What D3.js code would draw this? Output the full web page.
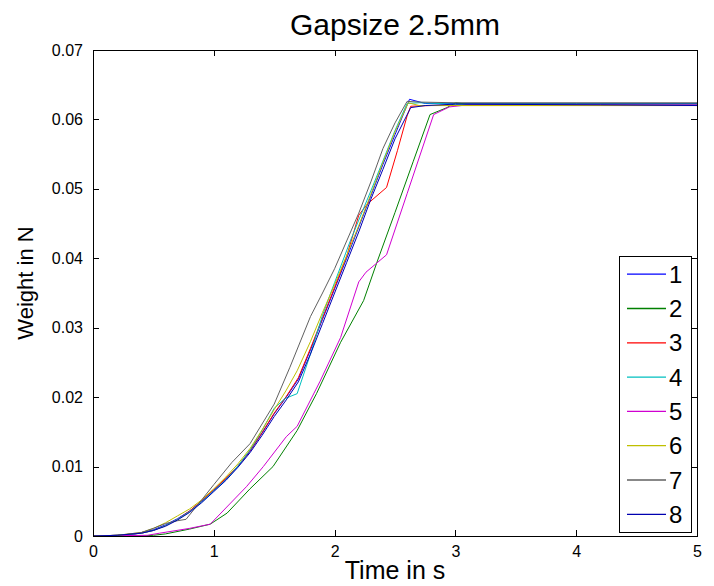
<!DOCTYPE html>
<html lang="en">
<meta charset="utf-8">

<head>
    <title>Gapsize 2.5mm</title>
    <script src="https://d3js.org/d3.v7.min.js"></script>
    <style>
        body { margin: 0; background: #fff; }
        text { font-family: "Liberation Sans", Arial, sans-serif; fill: #000; }
    </style>
</head>

<body>
    <div id="plot"></div>
    <script>
        // time (s), weight (N) pairs for each run
        var run1 = [[0, 0], [0.2, 0.0001], [0.35, 0.0003], [0.5, 0.0009], [0.6, 0.0016], [0.7, 0.0025], [0.8, 0.0036], [0.9, 0.005], [1.0, 0.0066], [1.1, 0.0082], [1.2, 0.01], [1.3, 0.0122], [1.4, 0.0148], [1.5, 0.0176], [1.6, 0.02], [1.7, 0.0226], [1.8, 0.0268], [1.9, 0.0312], [2.0, 0.0356], [2.1, 0.04], [2.2, 0.0445], [2.3, 0.049], [2.4, 0.0535], [2.5, 0.0578], [2.62, 0.0629], [2.75, 0.0623], [3.0, 0.0623], [4.0, 0.0623], [5.0, 0.0623]];
        var run2 = [[0, 0], [0.4, 0], [0.5, 0.0001], [0.6, 0.0003], [0.8, 0.001], [0.97, 0.0017], [1.11, 0.0033], [1.3, 0.0068], [1.49, 0.01], [1.69, 0.0152], [1.85, 0.0205], [2.05, 0.0279], [2.24, 0.0339], [2.35, 0.0394], [2.5, 0.0466], [2.65, 0.0539], [2.79, 0.0607], [2.93, 0.0617], [3.0, 0.0624], [3.1, 0.0622], [5.0, 0.0622]];
        var run3 = [[0, 0], [0.2, 0.0001], [0.4, 0.0004], [0.5, 0.0008], [0.6, 0.0015], [0.7, 0.0024], [0.8, 0.0036], [0.9, 0.0051], [1.0, 0.0067], [1.1, 0.0083], [1.2, 0.0101], [1.3, 0.0123], [1.4, 0.0149], [1.5, 0.0177], [1.6, 0.0201], [1.7, 0.0228], [1.8, 0.027], [1.9, 0.0314], [2.0, 0.0358], [2.1, 0.0403], [2.2, 0.0462], [2.27, 0.0478], [2.43, 0.0502], [2.52, 0.0555], [2.6, 0.0605], [2.63, 0.0619], [2.8, 0.062], [5.0, 0.062]];
        var run4 = [[0, 0], [0.2, 0.0001], [0.4, 0.0004], [0.5, 0.0008], [0.6, 0.0015], [0.7, 0.0024], [0.8, 0.0035], [0.9, 0.0049], [1.0, 0.0065], [1.1, 0.0081], [1.2, 0.0101], [1.3, 0.0124], [1.4, 0.0152], [1.5, 0.0184], [1.59, 0.0198], [1.69, 0.0205], [1.8, 0.0262], [1.9, 0.0318], [2.0, 0.0365], [2.13, 0.0425], [2.2, 0.0455], [2.3, 0.0497], [2.4, 0.054], [2.5, 0.0584], [2.6, 0.0623], [2.7, 0.0624], [3.0, 0.0622], [5.0, 0.0622]];
        var run5 = [[0, 0], [0.45, 0.0001], [0.55, 0.0004], [0.8, 0.0011], [0.97, 0.0017], [1.27, 0.0071], [1.41, 0.01], [1.6, 0.0143], [1.69, 0.0158], [1.88, 0.0223], [2.05, 0.0286], [2.2, 0.0366], [2.26, 0.038], [2.43, 0.0405], [2.6, 0.0493], [2.82, 0.0607], [2.95, 0.0618], [3.1, 0.0621], [5.0, 0.0621]];
        var run6 = [[0, 0], [0.2, 0.0001], [0.4, 0.0005], [0.5, 0.0011], [0.6, 0.0019], [0.7, 0.0029], [0.8, 0.0039], [0.9, 0.0052], [1.0, 0.0068], [1.1, 0.0085], [1.2, 0.0104], [1.3, 0.0126], [1.4, 0.0153], [1.5, 0.0182], [1.6, 0.021], [1.69, 0.0238], [1.8, 0.028], [1.9, 0.0322], [2.0, 0.0362], [2.1, 0.0404], [2.2, 0.0447], [2.3, 0.0492], [2.4, 0.0538], [2.5, 0.0582], [2.61, 0.0624], [2.7, 0.062], [3.0, 0.062], [5.0, 0.062]];
        var run7 = [[0, 0], [0.2, 0.0001], [0.4, 0.0005], [0.5, 0.0011], [0.6, 0.0018], [0.7, 0.0022], [0.77, 0.0024], [0.9, 0.0052], [1.0, 0.0074], [1.15, 0.0106], [1.3, 0.0133], [1.5, 0.019], [1.63, 0.0243], [1.8, 0.0316], [1.9, 0.035], [2.0, 0.0385], [2.1, 0.0425], [2.2, 0.0465], [2.3, 0.051], [2.4, 0.0558], [2.5, 0.0595], [2.6, 0.0626], [2.7, 0.0625], [3.0, 0.0624], [5.0, 0.0624]];
        var run8 = [[0, 0], [0.2, 0.0001], [0.4, 0.0004], [0.5, 0.0008], [0.6, 0.0014], [0.7, 0.0023], [0.8, 0.0034], [0.9, 0.0048], [1.0, 0.0064], [1.1, 0.008], [1.2, 0.0099], [1.3, 0.012], [1.4, 0.0145], [1.5, 0.0172], [1.6, 0.0196], [1.7, 0.0222], [1.8, 0.0262], [1.9, 0.0306], [2.0, 0.035], [2.1, 0.0394], [2.2, 0.0438], [2.3, 0.0485], [2.4, 0.0528], [2.5, 0.0572], [2.63, 0.0617], [2.75, 0.062], [3.0, 0.0622], [4.2, 0.0621], [5.0, 0.062]];

        var runNames = ["1", "2", "3", "4", "5", "6", "7", "8"];
        var runColors = ["#0000ff", "#008000", "#ff0000", "#00bfbf", "#d000d0", "#bfbf00", "#606060", "#0000b0"];
        var runs = [run1, run2, run3, run4, run5, run6, run7, run8];

        var xTicks = [0, 1, 2, 3, 4, 5];
        var yTicks = [0, 0.01, 0.02, 0.03, 0.04, 0.05, 0.06, 0.07];

        var margin = { top: 50, right: 17, bottom: 50, left: 93 },
            width = 714 - margin.left - margin.right,
            height = 586 - margin.top - margin.bottom;

        var svg = d3.select("#plot")
            .append("svg")
            .attr("width", 714)
            .attr("height", 586);

        var g = svg.append("g")
            .attr("transform", "translate(" + margin.left + "," + margin.top + ")");

        var x = d3.scaleLinear().domain([0, 5]).range([0, width]);
        var y = d3.scaleLinear().domain([0, 0.07]).range([height, 0]);

        // curves
        var line = d3.line()
            .x(function (d) { return x(d[0]); })
            .y(function (d) { return y(d[1]); });

        runs.forEach(function (r, i) {
            g.append("path")
                .datum(r)
                .attr("fill", "none")
                .attr("stroke", runColors[i])
                .attr("stroke-width", 1)
                .attr("d", line);
        });

        // axes with inward ticks on all four sides
        var fmtY = function (d) { return d === 0 ? "0" : d3.format(".2f")(d); };

        g.append("g")
            .attr("transform", "translate(0," + height + ")")
            .call(d3.axisBottom(x).tickValues(xTicks).tickFormat(d3.format("d")).tickSizeInner(-6).tickSizeOuter(0).tickPadding(10))
            .call(function (a) { a.selectAll("text").style("font-size", "16px"); });
        g.append("g")
            .call(d3.axisTop(x).tickValues(xTicks).tickSizeInner(-6).tickSizeOuter(0).tickFormat(""));
        g.append("g")
            .call(d3.axisLeft(y).tickValues(yTicks).tickFormat(fmtY).tickSizeInner(-6).tickSizeOuter(0).tickPadding(10))
            .call(function (a) { a.selectAll("text").style("font-size", "16px"); });
        g.append("g")
            .attr("transform", "translate(" + width + ",0)")
            .call(d3.axisRight(y).tickValues(yTicks).tickSizeInner(-6).tickSizeOuter(0).tickFormat(""));

        g.selectAll(".domain").attr("stroke", "#000");
        g.selectAll(".tick line").attr("stroke", "#000");
        g.selectAll(".tick text").attr("fill", "#000");
        g.selectAll("path.domain, .tick line").attr("shape-rendering", "crispEdges");

        // legend
        var legend = g.append("g").attr("transform", "translate(" + (x(5) - 78) + "," + (y(0.0403) ) + ")");
        legend.append("rect")
            .attr("width", 72)
            .attr("height", 276)
            .attr("fill", "#fff")
            .attr("stroke", "#000")
            .attr("shape-rendering", "crispEdges");
        runNames.forEach(function (n, i) {
            var ly = 18 + i * 34.3;
            legend.append("line")
                .attr("x1", 8).attr("x2", 47)
                .attr("y1", ly).attr("y2", ly)
                .attr("stroke", runColors[i])
                .attr("stroke-width", 1.3);
            legend.append("text")
                .attr("x", 50).attr("y", ly)
                .attr("dy", "0.36em")
                .style("font-size", "24px")
                .text(n);
        });

        // titles
        svg.append("text")
            .attr("x", margin.left + width / 2)
            .attr("y", 35)
            .attr("text-anchor", "middle")
            .style("font-size", "30px")
            .text("Gapsize 2.5mm");

        svg.append("text")
            .attr("x", margin.left + width / 2)
            .attr("y", 579)
            .attr("text-anchor", "middle")
            .style("font-size", "25px")
            .text("Time in s");

        svg.append("text")
            .attr("transform", "translate(33,283) rotate(-90)")
            .attr("text-anchor", "middle")
            .style("font-size", "22px")
            .text("Weight in N");
    </script>
</body>

</html>
